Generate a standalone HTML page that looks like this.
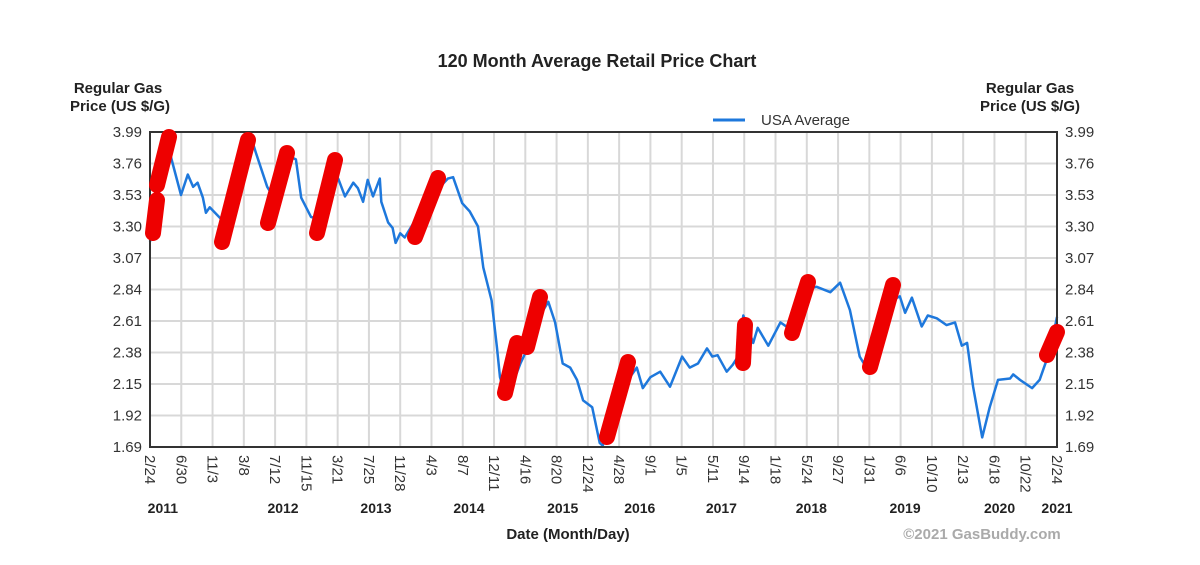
<!DOCTYPE html>
<html><head><meta charset="utf-8">
<style>
body{margin:0;background:#fff;}
svg{display:block;font-family:"Liberation Sans",Arial,sans-serif;}
</style></head>
<body>
<svg id="chart" width="1200" height="565" viewBox="0 0 1200 565">
<rect x="0" y="0" width="1200" height="565" fill="#fff"/>
<text x="597" y="67" text-anchor="middle" font-size="18" font-weight="bold" fill="#222">120 Month Average Retail Price Chart</text>
<text x="118" y="93" text-anchor="middle" font-size="15" font-weight="bold" fill="#222"><tspan x="118">Regular Gas</tspan><tspan x="120" dy="18">Price (US $/G)</tspan></text>
<text x="1030" y="93" text-anchor="middle" font-size="15" font-weight="bold" fill="#222"><tspan x="1030">Regular Gas</tspan><tspan x="1030" dy="18">Price (US $/G)</tspan></text>
<g>
<line x1="713" y1="120" x2="745" y2="120" stroke="#1e78dc" stroke-width="3"/>
<text x="761" y="125" font-size="15" fill="#333">USA Average</text>
</g>
<g id="grid"></g>
<g id="ticks"></g>
<g id="series"></g>
<rect x="150" y="132" width="907" height="315" fill="none" stroke="#333" stroke-width="2"/>
<g id="annot"></g>
<text x="568" y="539" text-anchor="middle" font-size="15" font-weight="bold" fill="#222">Date (Month/Day)</text>
<text x="982" y="539" text-anchor="middle" font-size="15" font-weight="bold" fill="#aaa">©2021 GasBuddy.com</text>
</svg>
<script>
const yTicks=[3.99,3.76,3.53,3.30,3.07,2.84,2.61,2.38,2.15,1.92,1.69];
const dateLabels=["2/24","6/30","11/3","3/8","7/12","11/15","3/21","7/25","11/28","4/3","8/7","12/11","4/16","8/20","12/24","4/28","9/1","1/5","5/11","9/14","1/18","5/24","9/27","1/31","6/6","10/10","2/13","6/18","10/22","2/24"];
const yearLabels=["2011","2012","2013","2014","2015","2016","2017","2018","2019","2020","2021"];
const yearMonths=[1.7,17.6,29.9,42.2,54.6,64.8,75.6,87.5,99.9,112.4,120];
const months=[0,1.1,1.9,2.2,2.8,4.1,5.0,5.7,6.3,7.0,7.4,7.9,8.6,9.5,10.6,11.9,13.2,13.5,14.0,15.5,16.5,17.9,18.9,19.3,20.0,21.3,22.5,23.8,24.9,25.8,26.9,27.5,28.2,28.8,29.5,30.4,30.6,31.5,32.1,32.5,33.1,33.7,35.7,37.7,39.4,40.1,41.3,42.3,43.4,44.1,45.2,45.9,46.3,47.0,47.6,49.0,50.3,51.6,52.7,53.6,54.6,55.6,56.5,57.3,58.5,59.5,59.9,60.9,62.2,63.5,64.4,65.2,66.2,67.5,68.8,70.4,71.4,72.5,73.7,74.4,75.1,76.3,77.1,77.8,78.5,79.8,80.4,81.8,83.4,84.7,86.0,87.3,88.2,90.0,91.3,92.6,93.9,95.0,96.6,97.9,99.2,99.9,100.8,102.1,102.9,104.1,105.4,106.5,107.4,108.1,108.9,110.1,111.1,112.2,113.8,114.2,115.1,116.7,117.7,119.1,120];
const prices=[3.19,3.50,3.85,3.95,3.80,3.53,3.68,3.59,3.62,3.51,3.40,3.44,3.40,3.35,3.30,3.55,3.90,3.93,3.84,3.59,3.50,3.75,3.80,3.79,3.51,3.37,3.35,3.70,3.65,3.52,3.62,3.58,3.48,3.64,3.52,3.65,3.48,3.33,3.29,3.18,3.25,3.22,3.40,3.55,3.65,3.66,3.47,3.41,3.30,3.00,2.76,2.42,2.20,2.07,2.10,2.30,2.45,2.65,2.75,2.60,2.30,2.27,2.18,2.03,1.98,1.72,1.70,1.85,2.05,2.20,2.27,2.12,2.20,2.24,2.13,2.35,2.27,2.30,2.41,2.35,2.36,2.24,2.29,2.35,2.65,2.45,2.56,2.43,2.60,2.55,2.70,2.85,2.86,2.82,2.89,2.69,2.35,2.25,2.50,2.75,2.79,2.67,2.78,2.57,2.65,2.63,2.58,2.60,2.43,2.45,2.13,1.76,1.98,2.18,2.19,2.22,2.18,2.12,2.18,2.40,2.64];
const NS="http://www.w3.org/2000/svg";
const X0=150,X1=1057,Y0=132,Y1=447,TMAX=120,PMAX=3.99,PMIN=1.69;
const xs=t=>X0+t/TMAX*(X1-X0);
const ys=p=>Y0+(PMAX-p)/(PMAX-PMIN)*(Y1-Y0);
function mk(tag,attrs,parent){const e=document.createElementNS(NS,tag);for(const k in attrs)e.setAttribute(k,attrs[k]);parent.appendChild(e);return e;}
const grid=document.getElementById('grid'),ticks=document.getElementById('ticks');
yTicks.forEach(v=>{
  const y=ys(v);
  const l=mk('line',{x1:X0,x2:X1,y1:y,y2:y,stroke:'#d8d8d8','stroke-width':2},grid);
  
  
  const a=mk('text',{x:142,y:y+5,'text-anchor':'end','font-size':15,fill:'#333'},ticks);a.textContent=v.toFixed(2);
  
  
  const b=mk('text',{x:1065,y:y+5,'font-size':15,fill:'#333'},ticks);b.textContent=v.toFixed(2);
  
  
});
const step=(X1-X0)/(dateLabels.length-1);
dateLabels.forEach((d,i)=>{
  const x=X0+i*step;
  const l=mk('line',{x1:x,x2:x,y1:Y0,y2:Y1,stroke:'#d8d8d8','stroke-width':2},grid);
  
  
  const t=mk('text',{x:0,y:0,'font-size':15,fill:'#333',transform:`translate(${x-5},455) rotate(90)`},ticks);t.textContent=d;
  
  
});
yearLabels.forEach((yr,i)=>{
  const t=mk('text',{x:Math.min(xs(yearMonths[i]),1058),y:513,'text-anchor':'middle','font-size':14,'font-weight':'bold',fill:'#222'},ticks);t.textContent=yr;
  
  
});
const pts=months.map((m,i)=>xs(m).toFixed(1)+','+ys(prices[i]).toFixed(1)).join(' ');
const line=mk('polyline',{points:pts,fill:'none',stroke:'#1e78dc','stroke-width':2.5,'stroke-linejoin':'round'},document.getElementById('series'));


const strokes=[[[153,233],[157,200]],[[157,185],[169,137]],[[222,242],[248,140]],[[268,223],[287,153]],[[317,233],[335,160]],[[415,237],[438,178]],[[505,393],[517,343],[527,347],[540,297]],[[607,437],[628,362]],[[743,363],[745,325]],[[792,333],[808,282]],[[870,367],[893,285]],[[1047,355],[1057,332]]];
strokes.forEach(s=>{
  const p=mk('polyline',{points:s.map(q=>q.join(',')).join(' '),fill:'none',stroke:'#ee0000','stroke-width':16,'stroke-linecap':'round','stroke-linejoin':'round'},document.getElementById('annot'));
  
  
});
</script>
</body></html>
